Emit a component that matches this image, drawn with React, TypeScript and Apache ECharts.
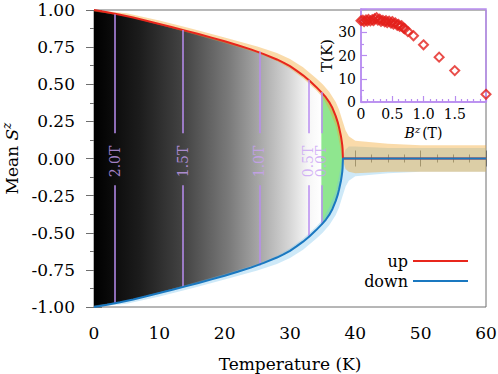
import React, { useEffect, useRef } from "react";
import * as echarts from "echarts";

// ---- main curves ----
const T_CURVE = [0, 2, 4, 6, 8, 10, 12, 14, 16, 18, 20, 22, 24, 26, 28, 29, 30, 31, 32, 33, 34, 35, 35.5, 36, 36.5, 37, 37.3, 37.5, 37.7, 37.8, 37.9, 38.0, 38.05, 38.1, 40, 45, 50, 55, 60];
const UP_S = [1.0, 0.985, 0.968, 0.949, 0.928, 0.906, 0.884, 0.861, 0.838, 0.814, 0.789, 0.763, 0.735, 0.703, 0.667, 0.646, 0.622, 0.592, 0.56, 0.523, 0.482, 0.437, 0.411, 0.38, 0.34, 0.285, 0.245, 0.21, 0.17, 0.15, 0.122, 0.09, 0.065, 0, 0, 0, 0, 0, 0];
const DOWN_S = [-1.0, -0.985, -0.968, -0.949, -0.928, -0.906, -0.884, -0.861, -0.838, -0.814, -0.789, -0.763, -0.735, -0.703, -0.667, -0.646, -0.622, -0.592, -0.56, -0.523, -0.482, -0.437, -0.411, -0.38, -0.34, -0.285, -0.245, -0.21, -0.17, -0.15, -0.122, -0.09, -0.065, 0, 0, 0, 0, 0, 0];

// split between grey gradient fill and green fill (0.0T line)
const SPLIT_T = 34.8;
const SPLIT_UP = 0.448;
const SPLIT_DOWN = -0.448;
const TC = 38.1;

// ---- scatter cloud envelopes ----
const BAND_T = [0, 5, 10, 15, 20, 25, 28, 30, 32, 34, 35, 36, 37, 37.5, 38, 38.5, 39, 40, 45, 50, 55, 60];
const ORANGE_HI = [1.0, 0.978, 0.93, 0.874, 0.815, 0.755, 0.71, 0.67, 0.615, 0.54, 0.5, 0.45, 0.38, 0.33, 0.26, 0.19, 0.15, 0.12, 0.1, 0.09, 0.09, 0.09];
const ORANGE_LO = [0.99, 0.958, 0.9, 0.84, 0.778, 0.71, 0.655, 0.605, 0.54, 0.46, 0.41, 0.33, 0.22, 0.12, 0.0, -0.07, -0.09, -0.1, -0.09, -0.09, -0.09, -0.09];
const BLUE_HI = [-0.99, -0.958, -0.9, -0.84, -0.778, -0.71, -0.655, -0.605, -0.54, -0.46, -0.41, -0.33, -0.22, -0.12, 0.0, 0.06, 0.08, 0.08, 0.07, 0.07, 0.07, 0.07];
const BLUE_LO = [-1.0, -0.978, -0.93, -0.874, -0.815, -0.755, -0.71, -0.67, -0.615, -0.54, -0.5, -0.45, -0.38, -0.33, -0.26, -0.19, -0.15, -0.12, -0.1, -0.09, -0.09, -0.09];

// ---- vertical field markers ----
const FIELD_LABELS = ["2.0T", "1.5T", "1.0T", "0.5T", "0.0T"];
const FIELD_T = [3.2, 13.6, 25.3, 32.8, 34.8];
const FIELD_TOP = [0.972, 0.866, 0.72, 0.53, 0.448];
const FIELD_BOTTOM = [-0.972, -0.866, -0.72, -0.53, -0.448];
const GAP_TOP = 0.17;
const GAP_BOTTOM = -0.18;

// ---- inset: T(K) vs B^z(T) ----
const INSET_B = [0.0, 0.03, 0.05, 0.08, 0.1, 0.12, 0.15, 0.18, 0.2, 0.22, 0.25, 0.27, 0.3, 0.32, 0.35, 0.38, 0.4, 0.42, 0.45, 0.48, 0.5, 0.52, 0.55, 0.58, 0.6, 0.62, 0.65, 0.68, 0.7, 0.75, 0.84, 1.0, 1.25, 1.5, 2.0];
const INSET_T = [35.0, 35.2, 34.6, 35.3, 34.8, 35.5, 34.9, 35.4, 35.0, 35.8, 36.3, 35.2, 35.6, 34.7, 35.1, 34.5, 35.0, 34.2, 34.8, 33.9, 34.6, 33.5, 34.0, 33.0, 33.4, 32.5, 32.8, 31.8, 31.5, 30.3, 28.5, 24.6, 19.3, 13.5, 3.3];

const FONT = "'DejaVu Serif', serif";
const FRAME = "#6e6e6e";
const PURPLE = "#b88cf0";
const FS = 17;

function pairs(xs: number[], ys: number[]) {
  return xs.map((x, i) => [x, ys[i]]);
}

export default function App() {
  const ref = useRef<HTMLDivElement>(null);
  useEffect(() => {
    if (!ref.current) return;
    const chart = echarts.init(ref.current, undefined, { renderer: "svg" });

    const greyT: number[] = [];
    const greyUp: number[] = [];
    const greyDown: number[] = [];
    T_CURVE.forEach((t, i) => {
      if (t < SPLIT_T) {
        greyT.push(t);
        greyUp.push(UP_S[i]);
        greyDown.push(DOWN_S[i]);
      }
    });
    greyT.push(SPLIT_T);
    greyUp.push(SPLIT_UP);
    greyDown.push(SPLIT_DOWN);

    const greenT: number[] = [SPLIT_T];
    const greenUp: number[] = [SPLIT_UP];
    const greenDown: number[] = [SPLIT_DOWN];
    T_CURVE.forEach((t, i) => {
      if (t > SPLIT_T && t <= TC) {
        greenT.push(t);
        greenUp.push(UP_S[i]);
        greenDown.push(DOWN_S[i]);
      }
    });

    // band between lo and hi drawn as a polygon through the axis scales
    const band = (xs: number[], lo: number[], hi: number[], fill: any, opacity: number, z: number) => ({
      type: "custom",
      xAxisIndex: 0,
      yAxisIndex: 0,
      silent: true,
      clip: true,
      z,
      data: xs.map((x, i) => [x, lo[i], hi[i]]),
      encode: { x: 0, y: [1, 2] },
      renderItem: (params: any, api: any) => {
        if (params.dataIndex !== 0) return null;
        const pts: number[][] = [];
        for (let i = 0; i < xs.length; i++) pts.push(api.coord([xs[i], hi[i]]));
        for (let i = xs.length - 1; i >= 0; i--) pts.push(api.coord([xs[i], lo[i]]));
        return {
          type: "polygon",
          shape: { points: pts, smooth: 0 },
          style: { fill, opacity, stroke: null },
        };
      },
    });

    const grad = new echarts.graphic.LinearGradient(0, 0, 1, 0, [
      { offset: 0, color: "#000000" },
      { offset: 0.2, color: "#1c1c1c" },
      { offset: 0.4, color: "#454545" },
      { offset: 0.6, color: "#7c7c7c" },
      { offset: 0.73, color: "#a8a8a8" },
      { offset: 0.86, color: "#d6d6d6" },
      { offset: 0.94, color: "#f6f6f6" },
      { offset: 1, color: "#ffffff" },
    ]);

    const markData: any[] = [];
    FIELD_T.forEach((t, i) => {
      markData.push([{ coord: [t, FIELD_TOP[i]] }, { coord: [t, GAP_TOP] }]);
      markData.push([{ coord: [t, GAP_BOTTOM] }, { coord: [t, FIELD_BOTTOM[i]] }]);
    });

    const axisCommon = {
      axisLine: { show: true, lineStyle: { color: FRAME, width: 1 } },
      axisTick: { show: true, inside: true, length: 8, lineStyle: { color: FRAME } },
      minorTick: { show: true, length: 4, lineStyle: { color: FRAME } },
      splitLine: { show: false },
    };
    const insetAxis = {
      axisLine: { show: true, lineStyle: { color: PURPLE, width: 1.5 } },
      axisTick: { show: true, inside: true, length: 6, lineStyle: { color: PURPLE, width: 1.2 } },
      minorTick: { show: true, length: 3, lineStyle: { color: PURPLE, width: 1.2 } },
      splitLine: { show: false },
    };

    const legendCommon = {
      right: 30,
      padding: 0,
      align: "right",
      icon: "rect",
      itemWidth: 55,
      itemHeight: 2,
      itemGap: 10,
      textStyle: { fontFamily: FONT, fontSize: 16, color: "#000" },
    };

    chart.setOption({
      animation: false,
      backgroundColor: "#ffffff",
      textStyle: { fontFamily: FONT },
      legend: [
        { ...legendCommon, data: ["up"], top: 253 },
        { ...legendCommon, data: ["down"], top: 273 },
      ],
      grid: [
        { left: 94, top: 10, width: 392, height: 297, show: true, borderColor: FRAME, borderWidth: 1, backgroundColor: "transparent", outerBoundsMode: "none", containLabel: false },
        { left: 361, top: 9, width: 125, height: 93, show: true, borderColor: PURPLE, borderWidth: 1.5, backgroundColor: "transparent", z: 10, outerBoundsMode: "none", containLabel: false },
      ],
      xAxis: [
        {
          type: "value", gridIndex: 0, min: 0, max: 60, interval: 10, position: "bottom",
          ...axisCommon, minorTick: { ...axisCommon.minorTick, splitNumber: 4 },
          axisLabel: { margin: 17, color: "#000", fontFamily: FONT, fontSize: FS },
          name: "Temperature (K)", nameLocation: "middle", nameGap: 48,
          nameTextStyle: { fontFamily: FONT, fontSize: FS, color: "#000" },
        },
        {
          type: "value", gridIndex: 0, min: 0, max: 60, interval: 10, position: "top",
          ...axisCommon, minorTick: { ...axisCommon.minorTick, splitNumber: 4 },
          axisLabel: { show: false },
        },
        {
          type: "value", gridIndex: 1, min: 0, max: 2, interval: 0.5, position: "bottom",
          ...insetAxis, minorTick: { ...insetAxis.minorTick, splitNumber: 5 },
          axisLabel: {
            margin: 5, color: "#000", fontFamily: FONT, fontSize: 14, showMaxLabel: false,
            formatter: (v: number) => (v === 0 ? "0" : v.toFixed(1)),
          },
          name: "{i|B}{s|z}(T)", nameLocation: "middle", nameGap: 22,
          nameTextStyle: {
            fontFamily: FONT, fontSize: 14, color: "#000",
            rich: {
              i: { fontFamily: FONT, fontStyle: "italic", fontSize: 14 },
              s: { fontFamily: FONT, fontStyle: "italic", fontSize: 10, padding: [0, 2, 8, 0] },
            },
          },
        },
      ],
      yAxis: [
        {
          type: "value", gridIndex: 0, min: -1, max: 1, interval: 0.25, position: "left",
          ...axisCommon, minorTick: { ...axisCommon.minorTick, splitNumber: 2 },
          axisLabel: { margin: 19, color: "#000", fontFamily: FONT, fontSize: FS, formatter: (v: number) => v.toFixed(2) },
          name: "Mean {i|S}{s|z}", nameLocation: "middle", nameGap: 71, nameRotate: 90,
          nameTextStyle: {
            fontFamily: FONT, fontSize: FS, color: "#000",
            rich: {
              i: { fontFamily: FONT, fontStyle: "italic", fontSize: FS },
              s: { fontFamily: FONT, fontStyle: "italic", fontSize: 12, padding: [0, 0, 10, 0] },
            },
          },
        },
        {
          type: "value", gridIndex: 0, min: -1, max: 1, interval: 0.25, position: "right",
          ...axisCommon, minorTick: { ...axisCommon.minorTick, splitNumber: 2 },
          axisLabel: { show: false },
        },
        {
          type: "value", gridIndex: 1, min: 0, max: 40, interval: 10, position: "left",
          ...insetAxis, minorTick: { ...insetAxis.minorTick, splitNumber: 2 },
          axisLabel: { margin: 5, color: "#000", fontFamily: FONT, fontSize: 14, showMaxLabel: false },
          name: "T(K)", nameLocation: "middle", nameGap: 27, nameRotate: 90,
          nameTextStyle: { fontFamily: FONT, fontSize: 15, color: "#000" },
        },
      ],
      series: [
        band(greyT, greyDown, greyUp, grad, 1, 1),
        band(greenT, greenDown, greenUp, "#8fe68f", 1, 1),
        band(BAND_T, BLUE_LO, BLUE_HI, "#74c0ec", 0.35, 2),
        band(BAND_T, ORANGE_LO, ORANGE_HI, "#f2a42a", 0.4, 2),
        {
          type: "scatter",
          xAxisIndex: 0,
          yAxisIndex: 0,
          data: FIELD_T.map((t, i) => [t, -0.02, FIELD_LABELS[i]]),
          symbolSize: 1,
          itemStyle: { color: "rgba(0,0,0,0)" },
          silent: true,
          z: 3,
          label: {
            show: true,
            position: "inside",
            rotate: 90,
            color: "#c9a0f5",
            fontFamily: FONT,
            fontSize: 14,
            formatter: (p: any) => p.data[2],
          },
          labelLayout: { hideOverlap: false },
          markLine: {
            silent: true,
            symbol: ["none", "none"],
            label: { show: false },
            lineStyle: { color: PURPLE, width: 1.5, type: "solid" },
            data: markData,
          },
        },
        {
          name: "up",
          type: "line",
          xAxisIndex: 0,
          yAxisIndex: 0,
          data: pairs(T_CURVE, UP_S),
          symbol: "none",
          lineStyle: { color: "#e8261c", width: 2 },
          itemStyle: { color: "#e8261c" },
          z: 4,
        },
        {
          name: "down",
          type: "line",
          xAxisIndex: 0,
          yAxisIndex: 0,
          data: pairs(T_CURVE, DOWN_S),
          symbol: "none",
          lineStyle: { color: "#1a78c0", width: 2 },
          itemStyle: { color: "#1a78c0" },
          z: 5,
        },
        {
          type: "scatter",
          xAxisIndex: 2,
          yAxisIndex: 2,
          data: pairs(INSET_B, INSET_T),
          symbol: "diamond",
          symbolSize: 9,
          itemStyle: { color: "rgba(255,255,255,0)", borderColor: "#e3201b", borderWidth: 2 },
          z: 11,
        },
      ],
    });
    return () => chart.dispose();
  }, []);
  return <div ref={ref} style={{ position: "fixed", left: 0, top: 0, width: 498, height: 374 }} />;
}
